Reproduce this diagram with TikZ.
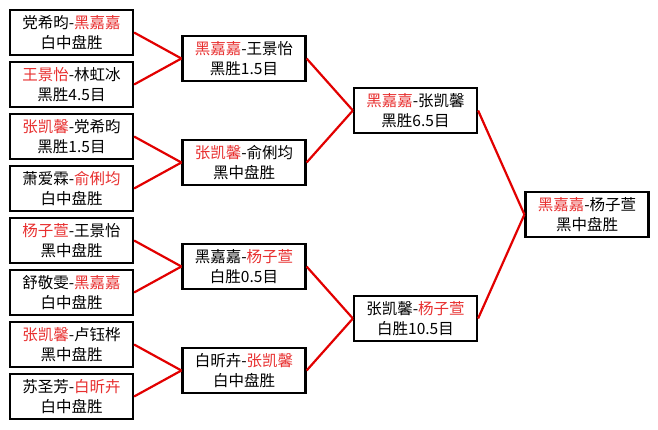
\documentclass[tikz,border=0pt]{standalone}
\usepackage{fontspec}
\setmainfont{Noto Sans CJK SC}
\definecolor{nm}{RGB}{232,48,48}
\definecolor{ln}{RGB}{226,0,0}
\newcommand\rn[1]{\textcolor{nm}{#1}}
\begin{document}
\begin{tikzpicture}[x=1pt,y=-1pt,
  box/.style={draw=black,line width=2.2pt,minimum width=123pt,minimum height=45pt,inner sep=0pt,align=center,font=\fontsize{15.5}{20}\selectfont},
  link/.style={draw=ln,line width=2.2pt}]
\fill[white] (0,0) rectangle (658,429);
\useasboundingbox (0,0) rectangle (658,429);
% round 1
\node[box] (a1) at (71.5,32.5) {党希昀-\rn{黑嘉嘉}\\白中盘胜};
\node[box] (a2) at (71.5,84.5) {\rn{王景怡}-林虹冰\\黑胜4.5目};
\node[box] (a3) at (71.5,136.5) {\rn{张凯馨}-党希昀\\黑胜1.5目};
\node[box] (a4) at (71.5,188.5) {萧爱霖-\rn{俞俐均}\\白中盘胜};
\node[box] (a5) at (71.5,240.5) {\rn{杨子萱}-王景怡\\黑中盘胜};
\node[box] (a6) at (71.5,292.5) {舒敬雯-\rn{黑嘉嘉}\\白中盘胜};
\node[box] (a7) at (71.5,344.5) {\rn{张凯馨}-卢钰桦\\黑中盘胜};
\node[box] (a8) at (71.5,396.5) {苏圣芳-\rn{白昕卉}\\白中盘胜};
% round 2
\node[box] (b1) at (244,58.5) {\rn{黑嘉嘉}-王景怡\\黑胜1.5目};
\node[box] (b2) at (244,162.5) {\rn{张凯馨}-俞俐均\\黑中盘胜};
\node[box] (b3) at (244,266.5) {黑嘉嘉-\rn{杨子萱}\\白胜0.5目};
\node[box] (b4) at (244,370.5) {白昕卉-\rn{张凯馨}\\白中盘胜};
% round 3
\node[box] (c1) at (415.5,110.5) {\rn{黑嘉嘉}-张凯馨\\黑胜6.5目};
\node[box] (c2) at (415.5,318.5) {张凯馨-\rn{杨子萱}\\白胜10.5目};
% final
\node[box] (d1) at (587,214.5) {\rn{黑嘉嘉}-杨子萱\\黑中盘胜};
% links
\draw[link] (a1.east) -- (b1.west);
\draw[link] (a2.east) -- (b1.west);
\draw[link] (a3.east) -- (b2.west);
\draw[link] (a4.east) -- (b2.west);
\draw[link] (a5.east) -- (b3.west);
\draw[link] (a6.east) -- (b3.west);
\draw[link] (a7.east) -- (b4.west);
\draw[link] (a8.east) -- (b4.west);
\draw[link] (b1.east) -- (c1.west);
\draw[link] (b2.east) -- (c1.west);
\draw[link] (b3.east) -- (c2.west);
\draw[link] (b4.east) -- (c2.west);
\draw[link] (c1.east) -- (d1.west);
\draw[link] (c2.east) -- (d1.west);
\end{tikzpicture}
\end{document}
